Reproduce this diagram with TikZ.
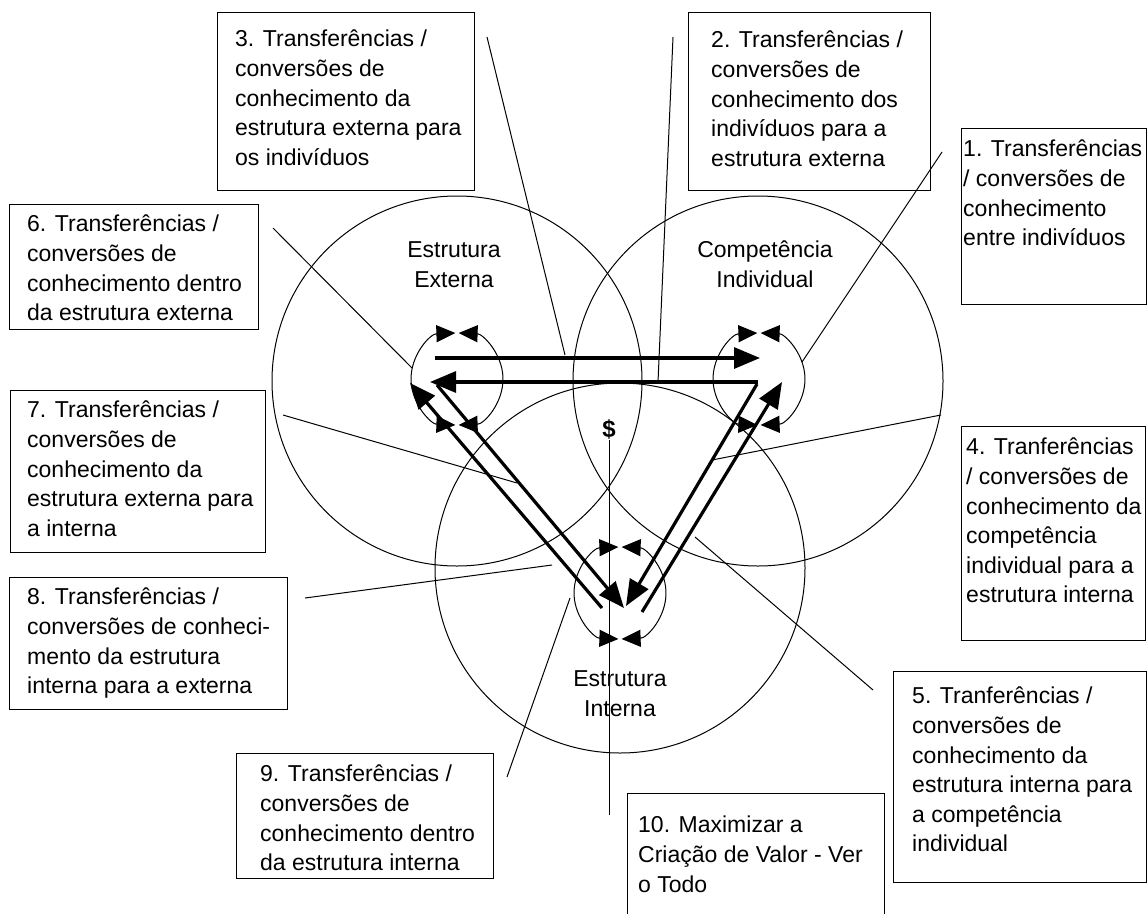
\documentclass[tikz,border=0pt]{standalone}
\usepackage{fontspec}
\setmainfont{Liberation Sans}
\usetikzlibrary{arrows.meta}
\begin{document}
\begin{tikzpicture}[x=1pt,y=-1pt,
  frame/.style={draw, line width=1pt, inner sep=0pt, anchor=north west},
  boxtext/.style={inner sep=0pt, anchor=north west, align=left, font=\fontsize{23}{29.6}\selectfont},
  lbl/.style={inner sep=0pt, anchor=north, align=center, font=\fontsize{23}{30}\selectfont},
  bigc/.style={draw, circle, minimum size=370pt, inner sep=0pt, line width=1pt},
  leader/.style={line width=1pt},
  big/.style={line width=3.2pt, -{Triangle[length=26pt,width=21pt]}},
  cyc/.style={line width=1pt, {Triangle[length=19pt,width=17pt]}-{Triangle[length=19pt,width=17pt]}}
]
\useasboundingbox (0,0) rectangle (1147,913);

% big circles
\node[bigc] (cEE) at (457,381) {};
\node[bigc] (cCI) at (758,381) {};
\node[bigc] (cEI) at (620,568) {};

% circle labels
\node[lbl] (lEE) at (454,241) {Estrutura\\Externa};
\node[lbl] (lCI) at (765,241) {Competência\\Individual};
\node[lbl] (lEI) at (620,670) {Estrutura\\Interna};

% small circles (two double-headed arcs each)
\coordinate (sEE) at (457,379);
\coordinate (sCI) at (759,379);
\coordinate (sEI) at (620,593);
\draw[cyc] (sEE) ++(92:46pt) arc[start angle=92,end angle=268,radius=46pt];
\draw[cyc] (sEE) ++(-88:46pt) arc[start angle=-88,end angle=88,radius=46pt];
\draw[cyc] (sCI) ++(92:46pt) arc[start angle=92,end angle=268,radius=46pt];
\draw[cyc] (sCI) ++(-88:46pt) arc[start angle=-88,end angle=88,radius=46pt];
\draw[cyc] (sEI) ++(92:46pt) arc[start angle=92,end angle=268,radius=46pt];
\draw[cyc] (sEI) ++(-88:46pt) arc[start angle=-88,end angle=88,radius=46pt];

% thick arrows
\coordinate (pAs) at (435,358); \coordinate (pAe) at (760,358);
\coordinate (pBs) at (758,382); \coordinate (pBe) at (430,382);
\coordinate (pEs) at (437,385); \coordinate (pEe) at (624,608);
\coordinate (pFs) at (602,608); \coordinate (pFe) at (410,383);
\coordinate (pCs) at (757,384); \coordinate (pCe) at (626,606);
\coordinate (pDs) at (642,612); \coordinate (pDe) at (782,382);
\draw[big] (pAs) -- (pAe);
\draw[big] (pBs) -- (pBe);
\draw[big] (pEs) -- (pEe);
\draw[big] (pFs) -- (pFe);
\draw[big] (pCs) -- (pCe);
\draw[big] (pDs) -- (pDe);

% dollar
\node[inner sep=1pt, font=\fontsize{24}{24}\selectfont\bfseries] (dollar) at (609,429) {\$};

% boxes
\node[frame, minimum width=185pt, minimum height=176pt] (b1) at (961,128) {};
\node[frame, minimum width=242pt, minimum height=178pt] (b2) at (688,12) {};
\node[frame, minimum width=257pt, minimum height=178pt] (b3) at (217,12) {};
\node[frame, minimum width=184pt, minimum height=214pt] (b4) at (961,426) {};
\node[frame, minimum width=253pt, minimum height=211pt] (b5) at (893,671) {};
\node[frame, minimum width=249pt, minimum height=125pt] (b6) at (9,204) {};
\node[frame, minimum width=255pt, minimum height=162pt] (b7) at (10,390) {};
\node[frame, minimum width=278pt, minimum height=132pt] (b8) at (9,577) {};
\node[frame, minimum width=257pt, minimum height=125pt] (b9) at (236,753) {};
\node[inner sep=0pt, anchor=north west, minimum width=257pt, minimum height=122pt] (b10) at (627,793) {};
\draw[line width=1pt] (b10.south west) |- (b10.north east) -- (b10.south east);

% box texts
\node[boxtext] (t1) at (963,140) {1. Transferências\\/ conversões de\\conhecimento\\entre indivíduos};
\node[boxtext] (t2) at (711,31) {2. Transferências /\\conversões de\\conhecimento dos\\indivíduos para a\\estrutura externa};
\node[boxtext] (t3) at (235,30) {3. Transferências /\\conversões de\\conhecimento da\\estrutura externa para\\os indivíduos};
\node[boxtext] (t4) at (966,438) {4. Tranferências\\/ conversões de\\conhecimento da\\competência\\individual para a\\estrutura interna};
\node[boxtext] (t5) at (912,687) {5. Tranferências /\\conversões de\\conhecimento da\\estrutura interna para\\a competência\\individual};
\node[boxtext] (t6) at (27,215) {6. Transferências /\\conversões de\\conhecimento dentro\\da estrutura externa};
\node[boxtext] (t7) at (27,401) {7. Transferências /\\conversões de\\conhecimento da\\estrutura externa para\\a interna};
\node[boxtext] (t8) at (27,588) {8. Transferências /\\conversões de conheci-\\mento da estrutura\\interna para a externa};
\node[boxtext] (t9) at (260,765) {9. Transferências /\\conversões de\\conhecimento dentro\\da estrutura interna};
\node[boxtext] (t10) at (638,816) {10. Maximizar a\\Criação de Valor - Ver\\o Todo};

% leader lines
\coordinate (l1a) at (942,152); \coordinate (l1b) at (802,362);
\coordinate (l2a) at (673,37);  \coordinate (l2b) at (658,382);
\coordinate (l3a) at (487,37);  \coordinate (l3b) at (565,355);
\coordinate (l4a) at (941,415); \coordinate (l4b) at (712,460);
\coordinate (l5a) at (873,690); \coordinate (l5b) at (695,537);
\coordinate (l6a) at (273,228); \coordinate (l6b) at (412,368);
\coordinate (l7a) at (283,415); \coordinate (l7b) at (517,483);
\coordinate (l8a) at (305,598); \coordinate (l8b) at (552,565);
\coordinate (l9a) at (507,777); \coordinate (l9b) at (570,598);
\coordinate (l10b) at (609,815);
\draw[leader] (l1a) -- (l1b);
\draw[leader] (l2a) -- (l2b);
\draw[leader] (l3a) -- (l3b);
\draw[leader] (l4a) -- (l4b);
\draw[leader] (l5a) -- (l5b);
\draw[leader] (l6a) -- (l6b);
\draw[leader] (l7a) -- (l7b);
\draw[leader] (l8a) -- (l8b);
\draw[leader] (l9a) -- (l9b);
\draw[leader] (dollar.south) -- (l10b);
\end{tikzpicture}
\end{document}
